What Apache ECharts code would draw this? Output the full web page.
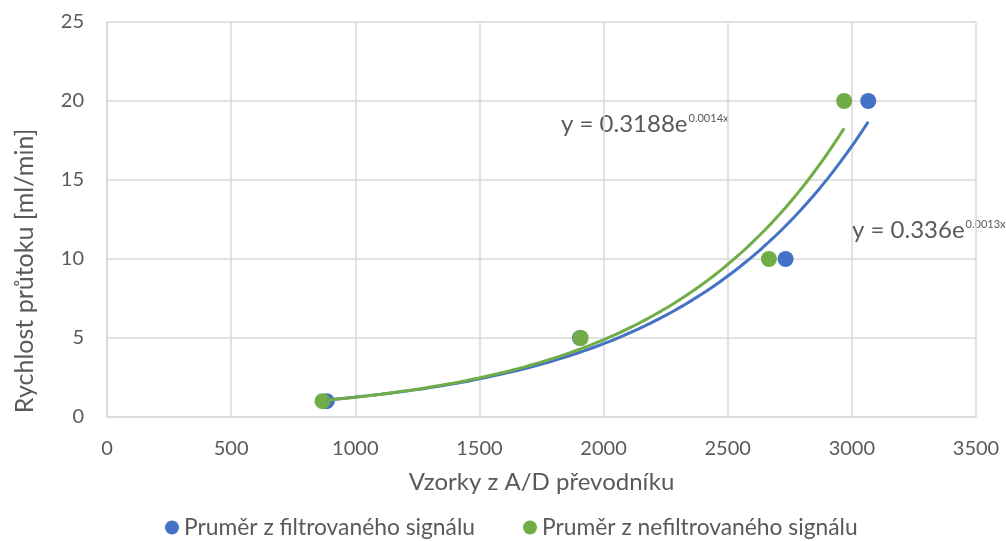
<!DOCTYPE html>
<html>
<head>
<meta charset="utf-8">
<script src="https://cdn.jsdelivr.net/npm/echarts@6/dist/echarts.min.js"></script>
<style>
  html, body { margin: 0; padding: 0; background: #fff; }
  #chart { width: 1006px; height: 541px; }
</style>
</head>
<body>
<div id="chart"></div>
<script>
// Measured samples: A/D converter readings vs. flow rate
const flowRate = [1, 5, 10, 20];
const adFiltered = [885, 1905, 2733, 3066];
const adUnfiltered = [868, 1908, 2666, 2969];

const seriesNames = ['Pruměr z filtrovaného signálu', 'Pruměr z nefiltrovaného signálu'];
const equationTexts = [['y = 0.336e', '0.0013x'], ['y = 0.3188e', '0.0014x']];
const xAxisTitle = 'Vzorky z A/D převodníku';
const yAxisTitle = 'Rychlost průtoku [ml/min]';

const xTicks = { min: 0, max: 3500, interval: 500 };
const yTicks = { min: 0, max: 25, interval: 5 };

const BLUE = '#4472C4';
const GREEN = '#70AD47';
const TEXT = '#595959';
const GRID = '#D9D9D9';
const FONT = 'Lato';

// Exponential least-squares fit y = a*e^(b*x) (linear fit on ln y)
function expFit(xs, ys) {
  const n = xs.length;
  const ly = ys.map(Math.log);
  const mx = xs.reduce((s, v) => s + v, 0) / n;
  const my = ly.reduce((s, v) => s + v, 0) / n;
  let sxy = 0, sxx = 0;
  for (let i = 0; i < n; i++) {
    sxy += (xs[i] - mx) * (ly[i] - my);
    sxx += (xs[i] - mx) * (xs[i] - mx);
  }
  const b = sxy / sxx;
  const a = Math.exp(my - b * mx);
  return { a, b };
}

function trendPoints(xs, ys, steps) {
  const { a, b } = expFit(xs, ys);
  const x0 = Math.min(...xs), x1 = Math.max(...xs);
  const pts = [];
  for (let i = 0; i <= steps; i++) {
    const x = x0 + (x1 - x0) * i / steps;
    pts.push([x, a * Math.exp(b * x)]);
  }
  return pts;
}

const pairs = (xs, ys) => xs.map((x, i) => [x, ys[i]]);

// Trendline equation with superscript exponent
function equationLabel(parts, x, y) {
  return {
    type: 'text', x: x, y: y, silent: true,
    style: {
      text: '{m|' + parts[0] + '}{s|' + parts[1] + '}',
      verticalAlign: 'top',
      fill: TEXT,
      rich: {
        m: { fontFamily: FONT, fontSize: 24, lineHeight: 26, fill: TEXT },
        s: { fontFamily: FONT, fontSize: 11, lineHeight: 12, fill: TEXT, verticalAlign: 'top', padding: [2, 0, 0, 1] }
      }
    }
  };
}

const chart = echarts.init(document.getElementById('chart'), null, { renderer: 'canvas' });

const option = {
  animation: false,
  backgroundColor: '#fff',
  textStyle: { fontFamily: FONT, color: TEXT },
  grid: { left: 107, right: 30, top: 22, bottom: 124, containLabel: false },
  xAxis: {
    type: 'value',
    min: xTicks.min, max: xTicks.max, interval: xTicks.interval,
    name: xAxisTitle,
    nameLocation: 'middle',
    nameGap: 53,
    nameTextStyle: { fontFamily: FONT, fontSize: 24, color: TEXT },
    axisLine: { show: true, lineStyle: { color: GRID, width: 1.5 } },
    axisTick: { show: false },
    axisLabel: { fontFamily: FONT, fontSize: 20, color: TEXT, margin: 22, formatter: v => String(v) },
    splitLine: { show: true, lineStyle: { color: GRID, width: 1.5 } }
  },
  yAxis: {
    type: 'value',
    min: yTicks.min, max: yTicks.max, interval: yTicks.interval,
    axisLine: { show: true, lineStyle: { color: GRID, width: 1.5 } },
    axisTick: { show: false },
    axisLabel: { fontFamily: FONT, fontSize: 20, color: TEXT, margin: 23, formatter: v => String(v) },
    splitLine: { show: true, lineStyle: { color: GRID, width: 1.5 } }
  },
  legend: {
    top: 516,
    left: 165,
    padding: 0,
    itemGap: 48,
    itemWidth: 14,
    itemHeight: 14,
    icon: 'circle',
    textStyle: { fontFamily: FONT, fontSize: 22.8, color: TEXT },
    data: seriesNames
  },
  series: [
    {
      name: seriesNames[0], type: 'scatter', symbol: 'circle', symbolSize: 16,
      itemStyle: { color: BLUE, opacity: 1 }, data: pairs(adFiltered, flowRate), z: 2
    },
    {
      name: seriesNames[1], type: 'scatter', symbol: 'circle', symbolSize: 16,
      itemStyle: { color: GREEN, opacity: 1 }, data: pairs(adUnfiltered, flowRate), z: 3
    },
    {
      name: 'trend-filtered', type: 'line', showSymbol: false, silent: true,
      lineStyle: { color: BLUE, width: 3 }, data: trendPoints(adFiltered, flowRate, 80), z: 4
    },
    {
      name: 'trend-unfiltered', type: 'line', showSymbol: false, silent: true,
      lineStyle: { color: GREEN, width: 3 }, data: trendPoints(adUnfiltered, flowRate, 80), z: 5
    }
  ],
  graphic: [
    {
      type: 'text', x: 25, y: 271, rotation: Math.PI / 2, silent: true,
      style: { text: yAxisTitle, font: '25px ' + FONT, fill: TEXT, align: 'center', verticalAlign: 'middle' }
    },
    equationLabel(equationTexts[1], 561, 111),
    equationLabel(equationTexts[0], 852, 217)
  ]
};

chart.setOption(option);
</script>
</body>
</html>
